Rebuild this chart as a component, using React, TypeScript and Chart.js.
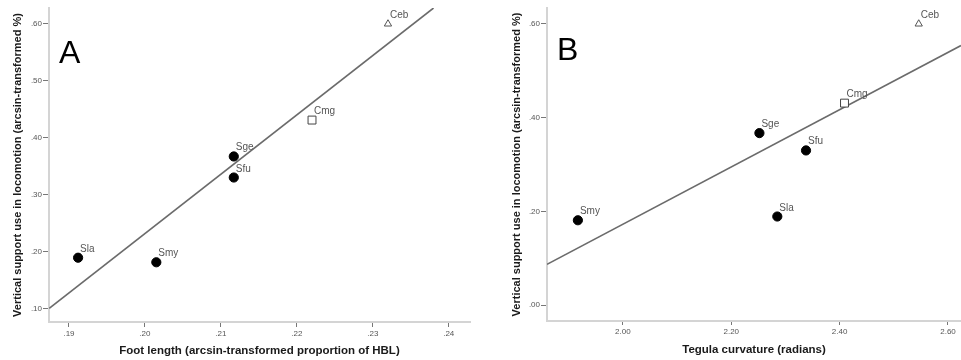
import React, { useEffect, useRef } from "react";
import { Chart, registerables } from "chart.js";

Chart.register(...registerables);

// ---- data ----
const species = ["Sla", "Smy", "Sge", "Sfu", "Cmg", "Ceb"];
const verticalSupport = [0.189, 0.181, 0.367, 0.33, 0.431, 0.6];
const footLength = [0.1912, 0.2015, 0.2117, 0.2117, 0.222, 0.232];
const tegulaCurvature = [2.285, 1.917, 2.252, 2.338, 2.409, 2.546];

// fitted regression lines (end points)
const fitAX = [0.1874, 0.238];
const fitAY = [0.1, 0.628];
const fitBX = [1.86, 2.624];
const fitBY = [0.087, 0.554];

// tick values and labels
const aXTicks = [0.19, 0.2, 0.21, 0.22, 0.23, 0.24];
const aXTickLabels = [".19", ".20", ".21", ".22", ".23", ".24"];
const aYTicks = [0.1, 0.2, 0.3, 0.4, 0.5, 0.6];
const aYTickLabels = [".10", ".20", ".30", ".40", ".50", ".60"];
const bXTicks = [2.0, 2.2, 2.4, 2.6];
const bXTickLabels = ["2.00", "2.20", "2.40", "2.60"];
const bYTicks = [0.0, 0.2, 0.4, 0.6];
const bYTickLabels = [".00", ".20", ".40", ".60"];

const yTitle = "Vertical support use in locomotion (arcsin-transformed %)";
const aXTitle = "Foot length (arcsin-transformed proportion of HBL)";
const bXTitle = "Tegula curvature (radians)";

const FONT = '"Liberation Sans", Arial, Helvetica, sans-serif';

function markerFor(name: string) {
  if (name === "Cmg") return { style: "rect", radius: 5.6, bg: "#ffffff", border: "#444444", bw: 1 };
  if (name === "Ceb") return { style: "triangle", radius: 4.2, bg: "#ffffff", border: "#555555", bw: 1 };
  return { style: "circle", radius: 4.6, bg: "#000000", border: "#000000", bw: 1 };
}

const panelTextPlugin = {
  id: "panelText",
  afterDatasetsDraw(chart: any, _args: any, opts: any) {
    const ctx = chart.ctx;
    const meta = chart.getDatasetMeta(0);
    ctx.save();
    ctx.font = `10px ${FONT}`;
    ctx.fillStyle = "#555555";
    ctx.textBaseline = "alphabetic";
    ctx.textAlign = "left";
    meta.data.forEach((el: any, i: number) => {
      ctx.fillText(species[i], el.x + 2, el.y - 6);
    });
    ctx.font = `32px ${FONT}`;
    ctx.fillStyle = "#000000";
    ctx.fillText(opts.letter, chart.chartArea.left + 10, chart.chartArea.top + opts.letterDy);
    ctx.restore();
  },
};

type Panel = {
  xValues: number[];
  fitX: number[];
  fitY: number[];
  xMin: number;
  xMax: number;
  yMin: number;
  yMax: number;
  xTicks: number[];
  xTickLabels: string[];
  yTicks: number[];
  yTickLabels: string[];
  xTitle: string;
  letter: string;
  letterDy: number;
  yAxisWidth: number;
  xAxisHeight: number;
  padRight: number;
  yTitlePad: number;
  xTitlePad: number;
  xTickLen: number;
  xTickPad: number;
};

function makeChart(canvas: HTMLCanvasElement, p: Panel) {
  const markers = species.map(markerFor);
  return new Chart(canvas, {
    type: "scatter",
    data: {
      datasets: [
        {
          type: "scatter",
          data: species.map((_, i) => ({ x: p.xValues[i], y: verticalSupport[i] })),
          pointStyle: markers.map((m) => m.style) as any,
          pointRadius: markers.map((m) => m.radius),
          pointBackgroundColor: markers.map((m) => m.bg),
          pointBorderColor: markers.map((m) => m.border),
          pointBorderWidth: markers.map((m) => m.bw),
        } as any,
        {
          type: "line",
          data: p.fitX.map((x, i) => ({ x, y: p.fitY[i] })),
          borderColor: "#6b6b6b",
          borderWidth: 1.6,
          pointRadius: 0,
          fill: false,
        } as any,
      ],
    },
    options: {
      responsive: false,
      animation: false,
      events: [],
      layout: { autoPadding: false, padding: { top: 8, right: p.padRight, bottom: 0, left: 0 } },
      plugins: {
        legend: { display: false },
        tooltip: { enabled: false },
        panelText: { letter: p.letter, letterDy: p.letterDy },
      } as any,
      scales: {
        x: {
          type: "linear",
          min: p.xMin,
          max: p.xMax,
          afterBuildTicks: (s: any) => {
            s.ticks = p.xTicks.map((v) => ({ value: v }));
          },
          afterFit: (s: any) => {
            s.height = p.xAxisHeight;
            s.paddingLeft = 0;
            s.paddingRight = 0;
          },
          ticks: {
            autoSkip: false,
            maxRotation: 0,
            padding: p.xTickPad,
            color: "#555555",
            font: { size: 8, family: FONT },
            callback: (_v: any, i: number) => p.xTickLabels[i],
          },
          grid: { drawOnChartArea: false, drawTicks: true, tickLength: p.xTickLen, color: "#777777", lineWidth: 1 },
          border: { color: "#d4d4d4", width: 2 },
          title: {
            display: true,
            text: p.xTitle,
            color: "#1a1a1a",
            font: { size: 11.5, weight: "bold", family: FONT },
            padding: { top: 0, bottom: p.xTitlePad },
          },
        },
        y: {
          type: "linear",
          min: p.yMin,
          max: p.yMax,
          afterBuildTicks: (s: any) => {
            s.ticks = p.yTicks.map((v) => ({ value: v }));
          },
          afterFit: (s: any) => {
            s.width = p.yAxisWidth;
            s.paddingTop = 0;
            s.paddingBottom = 0;
          },
          ticks: {
            autoSkip: false,
            padding: 1,
            color: "#555555",
            font: { size: 8, family: FONT },
            callback: (_v: any, i: number) => p.yTickLabels[i],
          },
          grid: { drawOnChartArea: false, drawTicks: true, tickLength: 6, color: "#777777", lineWidth: 1 },
          border: { color: "#d4d4d4", width: 2 },
          title: {
            display: true,
            text: yTitle,
            color: "#1a1a1a",
            font: { size: 11, weight: "bold", family: FONT },
            padding: { top: p.yTitlePad, bottom: 0 },
          },
        },
      },
    } as any,
    plugins: [panelTextPlugin as any],
  });
}

const panelA: Panel = {
  xValues: footLength,
  fitX: fitAX,
  fitY: fitAY,
  xMin: 0.18737,
  xMax: 0.2428,
  yMin: 0.076,
  yMax: 0.628,
  xTicks: aXTicks,
  xTickLabels: aXTickLabels,
  yTicks: aYTicks,
  yTickLabels: aYTickLabels,
  xTitle: aXTitle,
  letter: "A",
  letterDy: 55,
  yAxisWidth: 49,
  xAxisHeight: 38,
  padRight: 10,
  yTitlePad: 11.5,
  xTitlePad: 2.5,
  xTickLen: 5,
  xTickPad: 2,
};

const panelB: Panel = {
  xValues: tegulaCurvature,
  fitX: fitBX,
  fitY: fitBY,
  xMin: 1.86,
  xMax: 2.624,
  yMin: -0.034,
  yMax: 0.634,
  xTicks: bXTicks,
  xTickLabels: bXTickLabels,
  yTicks: bYTicks,
  yTickLabels: bYTickLabels,
  xTitle: bXTitle,
  letter: "B",
  letterDy: 52,
  yAxisWidth: 67,
  xAxisHeight: 39,
  padRight: 0,
  yTitlePad: 30.5,
  xTitlePad: 3.5,
  xTickLen: 4,
  xTickPad: 2,
};

function ChartPanel({ panel, left, width }: { panel: Panel; left: number; width: number }) {
  const ref = useRef<HTMLCanvasElement | null>(null);
  useEffect(() => {
    if (!ref.current) return;
    const chart = makeChart(ref.current, panel);
    return () => chart.destroy();
  }, [panel]);
  return (
    <canvas
      ref={ref}
      width={width}
      height={360}
      style={{ position: "absolute", left, top: 0, width, height: 360, display: "block" }}
    />
  );
}

export default function App() {
  return (
    <div style={{ position: "fixed", left: 0, top: 0, width: 961, height: 360, background: "#ffffff", overflow: "hidden" }}>
      <ChartPanel panel={panelA} left={0} width={480} />
      <ChartPanel panel={panelB} left={480} width={481} />
    </div>
  );
}
